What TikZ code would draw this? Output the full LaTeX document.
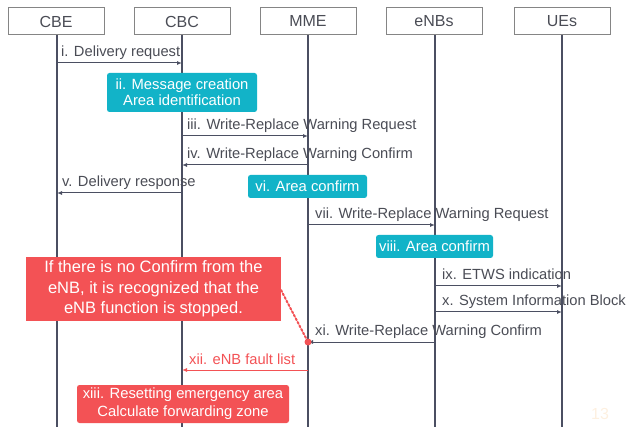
\documentclass[tikz,border=0pt]{standalone}
\usepackage{fontspec}
\setmainfont{Liberation Sans}
\usetikzlibrary{arrows.meta}
\definecolor{cyanbox}{HTML}{12B3C8}
\definecolor{redbox}{HTML}{F35255}
\definecolor{lifec}{HTML}{4B4F62}
\definecolor{txtc}{HTML}{4A4C55}
\definecolor{hdrc}{HTML}{858585}
\definecolor{pagec}{HTML}{FDF0E0}
\tikzset{
  hdr/.style={draw=hdrc, line width=1pt, minimum width=96pt, minimum height=27pt, inner sep=0pt, font=\fontsize{16}{18}\selectfont, text=txtc},
  life/.style={draw=lifec, line width=1.5pt},
  msg/.style={draw=lifec, line width=1pt, -{Latex[length=5pt,width=4pt]}},
  redmsg/.style={draw=redbox, line width=1pt, -{Latex[length=5pt,width=4pt]}},
  lbl/.style={anchor=base west, inner sep=0pt, font=\fontsize{14.7}{16}\selectfont, text=txtc},
  redlbl/.style={lbl, text=redbox},
  cbox/.style={fill=cyanbox, rounded corners=2.5pt, text=white, align=center, inner sep=0pt, font=\fontsize{14.8}{16}\selectfont},
  rbox/.style={fill=redbox, text=white, align=center, inner sep=0pt, font=\fontsize{14.8}{20}\selectfont},
}
\begin{document}
\begin{tikzpicture}[x=1pt,y=-1pt]
\useasboundingbox (0,0) rectangle (626,427);
% headers
\node[hdr] (cbe) at (56,21.5) {CBE};
\node[hdr] (cbc) at (182,21.5) {CBC};
\node[hdr] (mme) at (308,21.5) {MME};
\node[hdr] (enb) at (434,21.5) {eNBs};
\node[hdr] (ue) at (562,21.5) {UEs};
% lifelines
\coordinate (cbeE) at (57,427);
\coordinate (cbcE) at (182,427);
\coordinate (mmeE) at (308,427);
\coordinate (enbE) at (435,427);
\coordinate (ueE) at (562,427);
\draw[life] (cbe.south -| cbeE) -- (cbeE);
\draw[life] (cbc.south -| cbcE) -- (cbcE);
\draw[life] (mme.south -| mmeE) -- (mmeE);
\draw[life] (enb.south -| enbE) -- (enbE);
\draw[life] (ue.south -| ueE) -- (ueE);
% i
\coordinate (m1a) at (57,63); \coordinate (m1b) at (182,63);
\draw[msg] (m1a) -- (m1b);
\node[lbl] (l1) at (61,57) {i. Delivery request};
% ii
\node[cbox, minimum width=150pt, minimum height=39pt] (b2) at (182,92.5) {ii. Message creation\\Area identification};
% iii
\coordinate (m3a) at (182,136); \coordinate (m3b) at (308,136);
\draw[msg] (m3a) -- (m3b);
\node[lbl] (l3) at (187,130) {iii. Write-Replace Warning Request};
% iv
\coordinate (m4a) at (308,165); \coordinate (m4b) at (182,165);
\draw[msg] (m4a) -- (m4b);
\node[lbl] (l4) at (187,159) {iv. Write-Replace Warning Confirm};
% v
\coordinate (m5a) at (182,193); \coordinate (m5b) at (57,193);
\draw[msg] (m5a) -- (m5b);
\node[lbl] (l5) at (62,187) {v. Delivery response};
% vi
\node[cbox, minimum width=119pt, minimum height=23pt] (b6) at (307.5,186.5) {vi. Area confirm};
% vii
\coordinate (m7a) at (308,225); \coordinate (m7b) at (435,225);
\draw[msg] (m7a) -- (m7b);
\node[lbl] (l7) at (315,219) {vii. Write-Replace Warning Request};
% viii
\node[cbox, minimum width=117pt, minimum height=23pt] (b8) at (434.5,246.5) {viii. Area confirm};
% ix
\coordinate (m9a) at (435,286); \coordinate (m9b) at (562,286);
\draw[msg] (m9a) -- (m9b);
\node[lbl] (l9) at (442,280) {ix. ETWS indication};
% x
\coordinate (m10a) at (435,312); \coordinate (m10b) at (562,312);
\draw[msg] (m10a) -- (m10b);
\node[lbl] (l10) at (442,306) {x. System Information Block};
% xi
\coordinate (m11a) at (435,342); \coordinate (m11b) at (308,342);
\draw[msg] (m11a) -- (m11b);
\node[lbl] (l11) at (315,336) {xi. Write-Replace Warning Confirm};
% note
\node[rbox, minimum width=255pt, minimum height=64pt, font=\fontsize{16.5}{20.5}\selectfont] (note) at (153.5,289) {If there is no Confirm from the\\eNB, it is recognized that the\\eNB function is stopped.};
\coordinate (nt) at (281,290);
\node[circle, fill=redbox, inner sep=0pt, minimum size=7pt] (dot) at (308,342) {};
\draw[redbox, line width=2pt, dotted, line cap=round] (nt) -- (dot);
% xii
\coordinate (m12a) at (308,370); \coordinate (m12b) at (182,370);
\draw[redmsg] (m12a) -- (m12b);
\node[redlbl] (l12) at (189,364) {xii. eNB fault list};
% xiii
\node[rbox, rounded corners=2.5pt, minimum width=212pt, minimum height=38pt, font=\fontsize{14.8}{18}\selectfont] (b13) at (183,404) {xiii. Resetting emergency area\\Calculate forwarding zone};
% page number
\node[text=pagec, font=\fontsize{16}{18}\selectfont, inner sep=0pt] (pg) at (600,414) {13};
\end{tikzpicture}
\end{document}
